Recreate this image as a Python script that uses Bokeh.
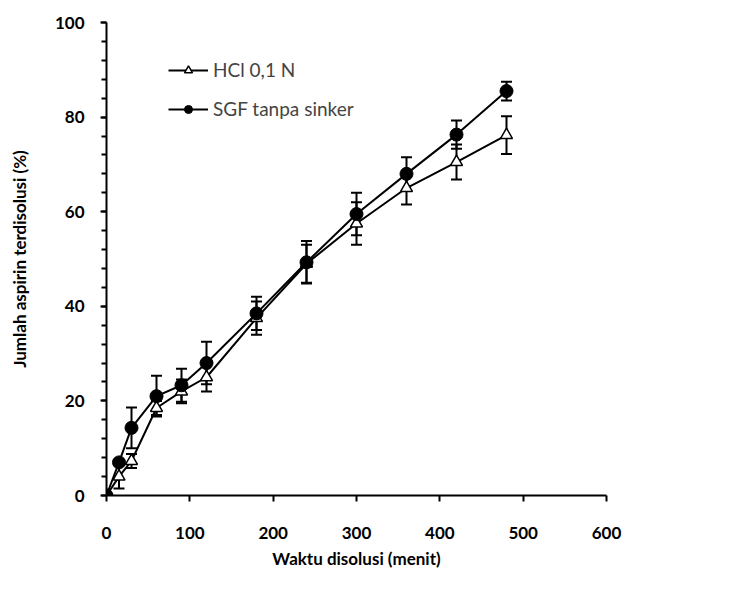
from bokeh.plotting import figure
from bokeh.models import (ColumnDataSource, Whisker, TeeHead, Range1d, SingleIntervalTicker,
                          Legend, LegendItem)
from bokeh.embed import file_html
from bokeh.resources import INLINE

time = [0, 15, 30, 60, 90, 120, 180, 240, 300, 360, 420, 480]
hcl = [0, 4.0, 7.3, 18.5, 22.0, 25.0, 37.5, 49.0, 57.5, 65.0, 70.5, 76.2]
hcl_err = [0, 2.5, 1.5, 1.5, 2.5, 3.0, 3.5, 4.0, 4.5, 3.5, 3.7, 4.0]
sgf = [0, 7.0, 14.3, 21.0, 23.3, 28.0, 38.5, 49.3, 59.5, 68.0, 76.3, 85.5]
sgf_err = [0, 0.5, 4.3, 4.3, 3.5, 4.5, 3.5, 4.5, 4.5, 3.5, 3.0, 2.0]

x_ticks = [0, 100, 200, 300, 400, 500, 600]
y_ticks = [0, 20, 40, 60, 80, 100]

FONT = "Lato"

p = figure(width=734, height=574, output_backend="svg", toolbar_location=None,
           x_range=Range1d(0, 600), y_range=Range1d(0, 100),
           min_border_left=106, min_border_right=128, min_border_top=22, min_border_bottom=79)
p.outline_line_color = None
p.xgrid.visible = False
p.ygrid.visible = False

def src(y, e):
    return ColumnDataSource(dict(x=time, y=y,
                                 lo=[a - b for a, b in zip(y, e)],
                                 hi=[a + b for a, b in zip(y, e)]))

s_hcl = src(hcl, hcl_err)
s_sgf = src(sgf, sgf_err)

for s in (s_hcl, s_sgf):
    w = Whisker(source=s, base="x", lower="lo", upper="hi", line_color="black", line_width=2,
                upper_head=TeeHead(size=11, line_width=2, line_color="black"),
                lower_head=TeeHead(size=11, line_width=2, line_color="black"))
    p.add_layout(w)

l1 = p.line("x", "y", source=s_hcl, line_color="black", line_width=2)
m1 = p.scatter("x", "y", source=s_hcl, marker="triangle", size=12, fill_color="white",
               line_color="black", line_width=1.5)
l2 = p.line("x", "y", source=s_sgf, line_color="black", line_width=2)
m2 = p.scatter("x", "y", source=s_sgf, marker="circle", size=13, fill_color="black",
               line_color="black")

p.xaxis.ticker = x_ticks
p.yaxis.ticker = SingleIntervalTicker(interval=20, num_minor_ticks=5)
p.yaxis.major_label_overrides = {v: str(v) for v in y_ticks}

for ax in (p.xaxis[0], p.yaxis[0]):
    ax.axis_line_width = 2
    ax.axis_line_color = "black"
    ax.major_tick_line_width = 2
    ax.major_tick_line_color = "black"
    ax.major_tick_in = 0
    ax.major_tick_out = 6
    ax.major_label_text_font = FONT
    ax.major_label_text_font_style = "bold"
    ax.major_label_text_font_size = "17px"
    ax.major_label_text_color = "black"
    ax.axis_label_text_font = FONT
    ax.axis_label_text_font_style = "bold"
    ax.axis_label_text_font_size = "17px"
    ax.axis_label_text_color = "black"

p.xaxis.minor_tick_line_color = None
p.xaxis.major_label_standoff = 25
p.xaxis.axis_label = "Waktu disolusi (menit)"
p.xaxis.axis_label_standoff = 6

p.yaxis.minor_tick_line_color = "black"
p.yaxis.minor_tick_line_width = 2
p.yaxis.minor_tick_in = 0
p.yaxis.minor_tick_out = 5
p.yaxis.major_label_standoff = 16
p.yaxis.axis_label = "Jumlah aspirin terdisolusi (%)"
p.yaxis.axis_label_standoff = 22

legend = Legend(items=[LegendItem(label="HCl 0,1 N", renderers=[l1, m1]),
                       LegendItem(label="SGF tanpa sinker", renderers=[l2, m2])],
                location=(62, 375), glyph_width=40, glyph_height=20, spacing=16,
                padding=0, margin=0, label_standoff=5,
                label_text_font=FONT, label_text_font_size="19px",
                background_fill_alpha=0, border_line_color=None)
p.add_layout(legend, "center")

open("out.html", "w").write(file_html(p, INLINE))
